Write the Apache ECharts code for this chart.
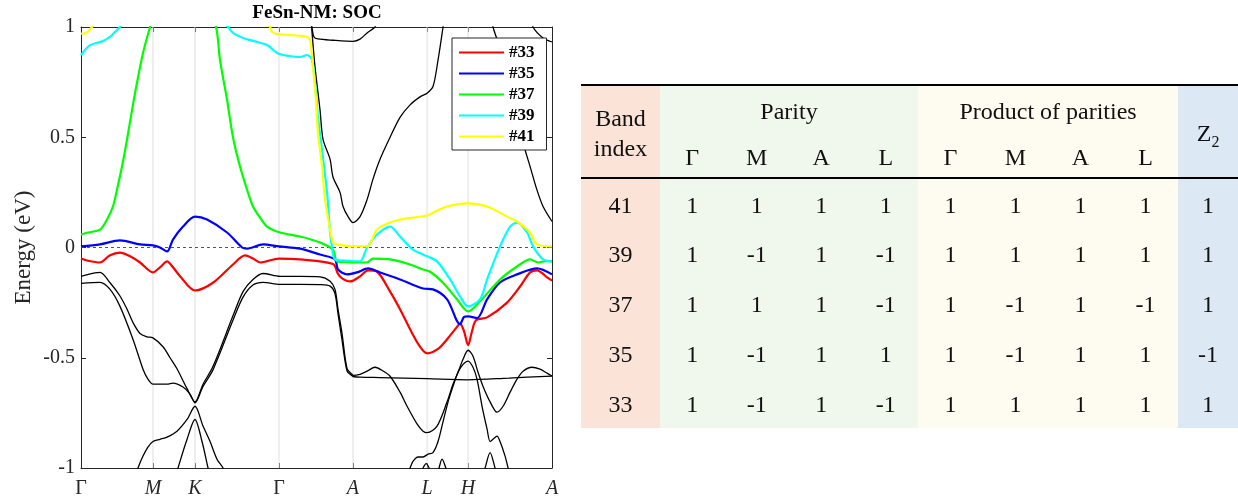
<!DOCTYPE html>
<html><head><meta charset="utf-8">
<script src="https://cdn.jsdelivr.net/npm/echarts@6/dist/echarts.min.js"></script>
<style>
html,body{margin:0;padding:0;background:#fff;}
#chart{position:absolute;left:0;top:0;width:1238px;height:499px;}
#tbl{position:absolute;left:581px;top:84px;border-collapse:collapse;table-layout:fixed;width:657px;font-family:'Liberation Serif','Times New Roman',serif;font-size:24px;color:#111;}
#tbl td{text-align:center;vertical-align:middle;padding:0;white-space:nowrap;}
#tbl sub{font-size:16px;}
</style></head><body>
<div id="chart"></div>
<table id="tbl"></table>
<script>
// ---------- band-structure data ----------
const kpos = [0, 0.572, 0.906, 1.574, 2.162, 2.751, 3.077, 3.744];
const klabels = ['Γ','M','K','Γ','A','L','H','A'];
const yTicks = [-1, -0.5, 0, 0.5, 1];
const legendNames = ['#33','#35','#37','#39','#41'];
const bandColors = ['#FF0000','#0000FF','#00FF00','#00FFFF','#FFFF00'];

const band33 = [[0,-0.05],[0.056,-0.06],[0.151,-0.068],[0.231,-0.035],[0.310,-0.023],[0.390,-0.04],[0.469,-0.068],[0.572,-0.113],[0.628,-0.09],[0.684,-0.063],[0.731,-0.09],[0.787,-0.13],[0.906,-0.195],[1.049,-0.16],[1.208,-0.077],[1.304,-0.036],[1.367,-0.05],[1.423,-0.068],[1.574,-0.05],[1.741,-0.054],[2.003,-0.075],[2.043,-0.12],[2.075,-0.14],[2.139,-0.154],[2.218,-0.131],[2.282,-0.104],[2.353,-0.11],[2.457,-0.2],[2.536,-0.28],[2.616,-0.371],[2.695,-0.45],[2.751,-0.48],[2.838,-0.46],[2.910,-0.416],[2.989,-0.36],[3.013,-0.345],[3.045,-0.38],[3.077,-0.443],[3.108,-0.38],[3.140,-0.33],[3.228,-0.317],[3.387,-0.25],[3.490,-0.177],[3.570,-0.113],[3.625,-0.104],[3.673,-0.12],[3.705,-0.136],[3.744,-0.15]];
const band35 = [[0,0.005],[0.151,0.014],[0.310,0.032],[0.469,0.014],[0.572,0.01],[0.628,0.0],[0.684,-0.018],[0.731,0.036],[0.811,0.095],[0.906,0.14],[1.002,0.127],[1.161,0.068],[1.280,0.0],[1.320,-0.005],[1.447,0.014],[1.574,0.005],[1.741,-0.005],[1.900,-0.032],[2.019,-0.054],[2.043,-0.1],[2.115,-0.122],[2.194,-0.113],[2.282,-0.095],[2.377,-0.113],[2.536,-0.145],[2.719,-0.186],[2.798,-0.19],[2.910,-0.235],[3.013,-0.348],[3.045,-0.315],[3.077,-0.312],[3.148,-0.32],[3.228,-0.235],[3.331,-0.158],[3.466,-0.122],[3.625,-0.095],[3.744,-0.122]];
const band37 = [[0,0.059],[0.056,0.068],[0.151,0.081],[0.207,0.127],[0.254,0.186],[0.286,0.262],[0.326,0.367],[0.366,0.49],[0.406,0.624],[0.445,0.747],[0.493,0.882],[0.549,1.0],[0.81,1.5],[1.073,1.0],[1.105,0.85],[1.161,0.67],[1.208,0.50],[1.264,0.367],[1.320,0.262],[1.367,0.186],[1.423,0.136],[1.479,0.095],[1.582,0.068],[1.741,0.05],[1.900,0.023],[2.003,-0.01],[2.035,-0.063],[2.115,-0.066],[2.218,-0.068],[2.274,-0.068],[2.321,-0.05],[2.457,-0.054],[2.616,-0.077],[2.719,-0.1],[2.775,-0.11],[2.878,-0.16],[2.989,-0.235],[3.077,-0.29],[3.172,-0.244],[3.331,-0.145],[3.466,-0.086],[3.570,-0.054],[3.633,-0.068],[3.705,-0.061],[3.744,-0.063]];
const band39 = [[0,0.873],[0.032,0.896],[0.072,0.918],[0.127,0.928],[0.175,0.937],[0.231,0.955],[0.270,0.977],[0.310,1.0],[0.74,1.3],[1.169,1.0],[1.208,0.973],[1.288,0.95],[1.399,0.932],[1.479,0.918],[1.558,0.882],[1.606,0.873],[1.741,0.864],[1.797,0.873],[1.836,0.85],[1.860,0.747],[1.884,0.59],[1.916,0.443],[1.956,0.25],[1.980,0.068],[1.995,0.005],[2.019,-0.054],[2.130,-0.06],[2.218,-0.063],[2.274,0.0],[2.353,0.059],[2.457,0.095],[2.536,0.05],[2.639,-0.01],[2.751,-0.04],[2.830,-0.063],[2.934,-0.145],[3.013,-0.222],[3.077,-0.267],[3.172,-0.235],[3.228,-0.145],[3.331,0.005],[3.411,0.095],[3.466,0.113],[3.546,0.068],[3.593,0.005],[3.673,-0.054],[3.744,-0.063]];
const band41 = [[0,0.97],[0.024,0.97],[0.056,0.98],[0.087,1.0],[0.8,1.5],[1.503,1.0],[1.518,0.977],[1.558,0.968],[1.638,0.964],[1.741,0.96],[1.797,0.955],[1.821,0.94],[1.844,0.82],[1.868,0.67],[1.884,0.52],[1.916,0.367],[1.940,0.217],[1.980,0.081],[2.003,0.023],[2.035,0.014],[2.162,0.005],[2.274,0.005],[2.353,0.081],[2.433,0.108],[2.536,0.127],[2.751,0.145],[2.798,0.158],[2.910,0.186],[3.069,0.2],[3.228,0.186],[3.387,0.14],[3.466,0.118],[3.570,0.068],[3.625,0.014],[3.744,0.005]];

const black1 = [[0,-0.131],[0.111,-0.115],[0.151,-0.113],[0.231,-0.16],[0.310,-0.22],[0.366,-0.28],[0.413,-0.34],[0.469,-0.39],[0.525,-0.405],[0.572,-0.41],[0.652,-0.45],[0.708,-0.50],[0.763,-0.55],[0.843,-0.64],[0.906,-0.70],[0.970,-0.62],[1.049,-0.54],[1.208,-0.31],[1.288,-0.2],[1.367,-0.145],[1.447,-0.118],[1.582,-0.131],[1.741,-0.131],[1.900,-0.133],[1.980,-0.153],[2.019,-0.19],[2.043,-0.28],[2.075,-0.39],[2.115,-0.55],[2.154,-0.575],[2.162,-0.58],[2.218,-0.575],[2.274,-0.561],[2.337,-0.543],[2.401,-0.56],[2.457,-0.584],[2.536,-0.656],[2.592,-0.72],[2.671,-0.80],[2.719,-0.833],[2.751,-0.84],[2.830,-0.81],[2.910,-0.70],[2.957,-0.62],[2.997,-0.566],[3.037,-0.507],[3.077,-0.466],[3.116,-0.493],[3.156,-0.566],[3.196,-0.63],[3.252,-0.70],[3.307,-0.747],[3.355,-0.72],[3.411,-0.656],[3.466,-0.597],[3.514,-0.561],[3.585,-0.543],[3.649,-0.552],[3.705,-0.57],[3.744,-0.583]];
const black2 = [[0,-0.163],[0.151,-0.158],[0.231,-0.19],[0.310,-0.267],[0.413,-0.416],[0.493,-0.552],[0.532,-0.597],[0.572,-0.62],[0.684,-0.62],[0.731,-0.615],[0.811,-0.633],[0.867,-0.665],[0.906,-0.705],[0.970,-0.63],[1.049,-0.555],[1.208,-0.33],[1.288,-0.225],[1.367,-0.17],[1.447,-0.158],[1.582,-0.167],[1.741,-0.167],[1.900,-0.168],[1.980,-0.175],[2.019,-0.21],[2.043,-0.30],[2.075,-0.42],[2.115,-0.56],[2.154,-0.582],[2.162,-0.585],[2.218,-0.588],[2.377,-0.59],[2.751,-0.595],[3.077,-0.6],[3.40,-0.592],[3.744,-0.583]];
const black3 = [[0.42,-1.06],[0.453,-1.0],[0.493,-0.946],[0.532,-0.905],[0.572,-0.88],[0.628,-0.87],[0.684,-0.86],[0.763,-0.833],[0.843,-0.78],[0.906,-0.72],[0.970,-0.81],[1.026,-0.88],[1.081,-0.96],[1.129,-1.0],[1.15,-1.04]];
const black4 = [[0.75,-1.04],[0.771,-1.0],[0.843,-0.87],[0.906,-0.78],[0.962,-0.88],[1.01,-1.0],[1.03,-1.04]];
const black5 = [[2.59,-1.05],[2.616,-1.0],[2.639,-0.97],[2.679,-0.95],[2.719,-0.95],[2.759,-0.937],[2.798,-0.93],[2.838,-0.88],[2.878,-0.79],[2.918,-0.70],[2.957,-0.63],[2.997,-0.566],[3.037,-0.53],[3.077,-0.515],[3.116,-0.543],[3.148,-0.597],[3.188,-0.72],[3.228,-0.824],[3.252,-0.88],[3.275,-0.87],[3.307,-0.855],[3.331,-0.88],[3.371,-0.946],[3.395,-1.0],[3.42,-1.05]];
const black6 = [[2.70,-1.03],[2.719,-1.0],[2.743,-0.98],[2.767,-1.0],[2.78,-1.03]];
const black7 = [[2.83,-1.04],[2.846,-1.0],[2.870,-0.96],[2.900,-1.0],[2.92,-1.04]];
const black8 = [[3.19,-1.04],[3.212,-1.0],[3.252,-0.93],[3.291,-1.0],[3.31,-1.04]];
const black9 = [[1.82,1.1],[1.833,1.0],[1.860,0.82],[1.900,0.624],[1.924,0.49],[1.980,0.40],[2.003,0.32],[2.059,0.25],[2.083,0.186],[2.123,0.14],[2.162,0.113],[2.218,0.14],[2.274,0.217],[2.321,0.31],[2.377,0.40],[2.457,0.50],[2.536,0.59],[2.616,0.647],[2.695,0.683],[2.751,0.70],[2.798,0.73],[2.838,0.85],[2.878,1.0],[2.89,1.05]];
const black10 = [[1.826,1.06],[1.836,1.0],[1.852,0.955],[1.884,0.946],[2.00,0.94],[2.162,0.935],[2.218,0.945],[2.274,0.973],[2.337,1.0],[2.35,1.02]];
const black11 = [[3.26,1.1],[3.275,1.0],[3.387,0.82],[3.434,0.67],[3.514,0.475],[3.570,0.367],[3.625,0.26],[3.673,0.186],[3.744,0.118]];
const black12 = [[3.58,1.05],[3.593,1.0],[3.673,0.95],[3.744,0.932]];

// ---------- table data ----------
const tableBandIndex = [41, 39, 37, 35, 33];
const tableKpts = ['Γ','M','A','L'];
const parityVals = [[1,1,1,1],[1,-1,1,-1],[1,1,1,-1],[1,-1,1,1],[1,-1,1,-1]];
const productVals = [[1,1,1,1],[1,1,1,1],[1,-1,1,-1],[1,-1,1,1],[1,1,1,1]];
const z2Vals = [1, 1, 1, -1, 1];

// ---------- build table ----------
(function(){
  const C = {band:'#FBE4D7', par:'#F0F7EC', prod:'#FEFBF1', z2:'#DDE8F5'};
  const widths = [79,64.5,64.5,64.5,64.5,65,65,65,65,60];
  let h = '<colgroup>' + widths.map(w=>'<col style="width:'+w+'px">').join('') + '</colgroup>';
  const top = 'border-top:2px solid #000;';
  const bot = 'border-bottom:2px solid #000;';
  h += '<tr style="height:47px">';
  h += '<td rowspan="2" style="background:'+C.band+';'+top+bot+'line-height:30px;padding-top:2px">Band<br>index</td>';
  h += '<td colspan="4" style="background:'+C.par+';'+top+'padding-top:4px">Parity</td>';
  h += '<td colspan="4" style="background:'+C.prod+';'+top+'padding-top:4px">Product of parities</td>';
  h += '<td rowspan="2" style="background:'+C.z2+';'+top+bot+'padding-top:8px">Z<sub>2</sub></td>';
  h += '</tr><tr style="height:46px">';
  tableKpts.forEach(k=>{ h += '<td style="background:'+C.par+';'+bot+'padding-top:6px">'+k+'</td>'; });
  tableKpts.forEach(k=>{ h += '<td style="background:'+C.prod+';'+bot+'padding-top:6px">'+k+'</td>'; });
  h += '</tr>';
  tableBandIndex.forEach((b,i)=>{
    h += '<tr style="height:50px">';
    h += '<td style="background:'+C.band+';padding-top:3px">'+b+'</td>';
    parityVals[i].forEach(v=>{ h += '<td style="background:'+C.par+';padding-top:3px">'+v+'</td>'; });
    productVals[i].forEach(v=>{ h += '<td style="background:'+C.prod+';padding-top:3px">'+v+'</td>'; });
    h += '<td style="background:'+C.z2+';padding-top:3px">'+z2Vals[i]+'</td>';
    h += '</tr>';
  });
  document.getElementById('tbl').innerHTML = h;
})();

// ---------- chart ----------
const FONT = "'Liberation Serif','Times New Roman',serif";
const AX = '#262626';
const chart = echarts.init(document.getElementById('chart'), null, {renderer:'canvas'});

function bandSeries(name, data, color, width) {
  return { name: name, type:'line', data: data, symbol:'none', smooth:0.3, clip:true, silent:true,
           lineStyle:{color:color, width:width}, itemStyle:{color:color} };
}
const series = [];
kpos.slice(1, -1).forEach(k => {
  series.push({ type:'line', data:[[k, yTicks[0]],[k, yTicks[yTicks.length-1]]], symbol:'none', silent:true,
                lineStyle:{color:'#dedede', width:1} });
});
series.push({ type:'line', data:[[kpos[0],0],[kpos[kpos.length-1],0]], symbol:'none', silent:true,
              lineStyle:{color:'#555', width:1, type:[3,3]} });
[black1,black2,black3,black4,black5,black6,black7,black8,black9,black10,black11,black12].forEach(d => {
  series.push(bandSeries('', d, '#000', 1.3));
});
[band33, band35, band37, band39, band41].forEach((d,i) => {
  series.push(bandSeries(legendNames[i], d, bandColors[i], 2.2));
});

function kLabel(v) {
  let idx = 0, best = 1e9;
  kpos.forEach((k,i)=>{ const d = Math.abs(k - v); if (d < best) { best = d; idx = i; } });
  const t = klabels[idx];
  return t === 'Γ' ? '{u|Γ}' : '{i|' + t + '}';
}

const option = {
  animation:false,
  backgroundColor:'#fff',
  grid:{left:81, top:27, width:471, height:442, show:false},
  graphic:[{type:'text', x:317, y:13, silent:true,
            style:{text:'FeSn-NM: SOC', fill:'#000', fontSize:19, fontWeight:'bold', fontFamily:FONT, align:'center', verticalAlign:'middle'}}],
  legend:{
    data: legendNames, orient:'vertical', left:452, top:38,
    itemWidth:45, itemHeight:14, itemGap:4, padding:[6,12,5,6],
    borderColor:AX, borderWidth:1, backgroundColor:'#fff',
    itemStyle:{color:'rgba(0,0,0,0)', borderWidth:0},
    textStyle:{fontFamily:FONT, fontWeight:'bold', fontSize:17, color:'#000'},
    selectedMode:false
  },
  xAxis:[
    {type:'value', min:kpos[0], max:kpos[kpos.length-1], position:'bottom',
     axisLine:{show:true, onZero:false, lineStyle:{color:AX, width:1}},
     axisTick:{show:true, inside:true, length:5, customValues:kpos, lineStyle:{color:AX}},
     axisLabel:{show:true, customValues:kpos, margin:11, formatter:kLabel,
       rich:{u:{fontFamily:FONT, fontSize:20, color:AX}, i:{fontFamily:FONT, fontSize:20, fontStyle:'italic', color:AX}}},
     splitLine:{show:false}},
    {type:'value', min:kpos[0], max:kpos[kpos.length-1], position:'top',
     axisLine:{show:true, onZero:false, lineStyle:{color:AX, width:1}},
     axisTick:{show:true, inside:true, length:5, customValues:kpos, lineStyle:{color:AX}},
     axisLabel:{show:false}, splitLine:{show:false}}
  ],
  yAxis:[
    {type:'value', min:yTicks[0], max:yTicks[yTicks.length-1], interval:0.5, position:'left',
     axisLine:{show:true, onZero:false, lineStyle:{color:AX, width:1}},
     axisTick:{show:true, inside:true, length:5, lineStyle:{color:AX}},
     axisLabel:{margin:6, fontFamily:FONT, fontSize:20, color:AX},
     splitLine:{show:false},
     name:'Energy (eV)', nameLocation:'middle', nameGap:46,
     nameTextStyle:{fontFamily:FONT, fontSize:23, color:AX}},
    {type:'value', min:yTicks[0], max:yTicks[yTicks.length-1], interval:0.5, position:'right',
     axisLine:{show:true, onZero:false, lineStyle:{color:AX, width:1}},
     axisTick:{show:true, inside:true, length:5, lineStyle:{color:AX}},
     axisLabel:{show:false}, splitLine:{show:false}}
  ],
  series: series
};
chart.setOption(option);
</script></body></html>
